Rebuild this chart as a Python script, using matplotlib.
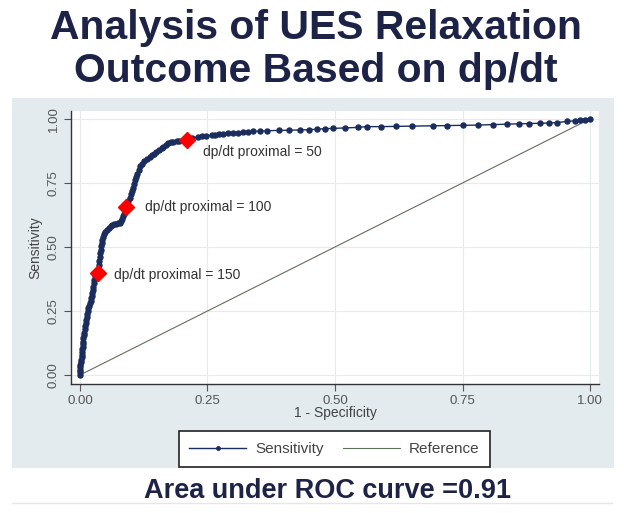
import matplotlib
matplotlib.use("Agg")
import matplotlib.pyplot as plt
from matplotlib.patches import Rectangle
from matplotlib.lines import Line2D

plt.rcParams["font.family"] = ["Liberation Sans", "DejaVu Sans"]

# ROC points (1 - specificity, sensitivity)
fpr = [0.000, 0.000, 0.000, 0.000, 0.001, 0.002, 0.002, 0.003, 0.003, 0.004,
       0.004, 0.005, 0.005, 0.006, 0.006, 0.007, 0.008, 0.009, 0.010, 0.011,
       0.012, 0.013, 0.014, 0.015, 0.016, 0.018, 0.020, 0.021, 0.022, 0.023,
       0.024, 0.025, 0.026, 0.027, 0.028, 0.030, 0.035, 0.036, 0.037, 0.038,
       0.039, 0.040, 0.041, 0.042, 0.043, 0.044, 0.046, 0.048, 0.050, 0.053,
       0.056, 0.060, 0.063, 0.067, 0.070, 0.074, 0.078, 0.080, 0.082, 0.084,
       0.086, 0.090, 0.093, 0.095, 0.098, 0.100, 0.102, 0.104, 0.106, 0.107,
       0.110, 0.112, 0.115, 0.118, 0.122, 0.126, 0.132, 0.137, 0.142, 0.146,
       0.150, 0.155, 0.160, 0.163, 0.168, 0.172, 0.178, 0.183, 0.190, 0.195,
       0.209, 0.220, 0.232, 0.240, 0.248, 0.258, 0.265, 0.272, 0.280, 0.290,
       0.300, 0.310, 0.320, 0.330, 0.340, 0.352, 0.366, 0.390, 0.410, 0.431,
       0.450, 0.464, 0.480, 0.496, 0.520, 0.545, 0.562, 0.590, 0.620, 0.650,
       0.692, 0.720, 0.750, 0.780, 0.810, 0.837, 0.860, 0.880, 0.902, 0.920,
       0.935, 0.954, 0.970, 0.980, 0.990, 1.000]
tpr = [0.000, 0.010, 0.020, 0.030, 0.040, 0.050, 0.060, 0.070, 0.080, 0.090,
       0.100, 0.110, 0.120, 0.130, 0.145, 0.155, 0.165, 0.178, 0.190, 0.203,
       0.215, 0.228, 0.240, 0.250, 0.260, 0.270, 0.280, 0.290, 0.300, 0.310,
       0.320, 0.333, 0.345, 0.358, 0.370, 0.385, 0.400, 0.415, 0.430, 0.445,
       0.460, 0.475, 0.490, 0.503, 0.515, 0.528, 0.540, 0.550, 0.560, 0.568,
       0.575, 0.580, 0.585, 0.588, 0.590, 0.592, 0.595, 0.600, 0.610, 0.620,
       0.630, 0.655, 0.668, 0.680, 0.693, 0.705, 0.718, 0.730, 0.745, 0.760,
       0.773, 0.785, 0.800, 0.815, 0.825, 0.835, 0.843, 0.850, 0.858, 0.865,
       0.872, 0.880, 0.886, 0.892, 0.899, 0.905, 0.908, 0.911, 0.913, 0.915,
       0.918, 0.925, 0.930, 0.932, 0.935, 0.936, 0.938, 0.940, 0.942, 0.944,
       0.946, 0.947, 0.948, 0.950, 0.951, 0.952, 0.954, 0.955, 0.956, 0.957,
       0.958, 0.960, 0.962, 0.963, 0.965, 0.967, 0.970, 0.970, 0.971, 0.972,
       0.973, 0.974, 0.975, 0.976, 0.978, 0.980, 0.981, 0.982, 0.983, 0.984,
       0.986, 0.990, 0.993, 0.995, 0.997, 1.000]

# highlighted cut-offs
cut_fpr = [0.209, 0.090, 0.035]
cut_tpr = [0.918, 0.655, 0.400]
cut_labels = ["dp/dt proximal = 50", "dp/dt proximal = 100", "dp/dt proximal = 150"]
cut_offsets = [(16, -12), (19, 0), (16, -2)]

ticks = [0.0, 0.25, 0.5, 0.75, 1.0]
tick_labels = ["0.00", "0.25", "0.50", "0.75", "1.00"]

navy = "#1b2d5c"
title_col = "#1c2347"
txt = "#444444"

fig = plt.figure(figsize=(6.24, 5.13), dpi=100)
W, H = 624, 513

# light panel behind the graph
fig.add_artist(Rectangle((12 / W, 1 - 468 / H), 602 / W, 370 / H,
                         transform=fig.transFigure, facecolor="#e3ebee",
                         edgecolor="none", zorder=-1))
fig.add_artist(Line2D([12 / W, 612 / W], [1 - 503 / H, 1 - 503 / H],
                      color="#e6e6e6", lw=1, zorder=-1))

fig.text(316 / W, 1 - 39 / H, "Analysis of UES Relaxation", ha="center",
         va="baseline", fontsize=29.4, fontweight="bold", color=title_col)
fig.text(316 / W, 1 - 82 / H, "Outcome Based on dp/dt", ha="center",
         va="baseline", fontsize=29.4, fontweight="bold", color=title_col)
fig.text(327 / W, 1 - 498 / H, "Area under ROC curve =0.91", ha="center",
         va="baseline", fontsize=19.5, fontweight="bold", color=title_col)

ax = fig.add_axes([71 / W, 1 - 384 / H, 528 / W, 273 / H])
ax.set_facecolor("white")
ax.set_xlim(-0.0176, 1.0176)
ax.set_ylim(-0.035, 1.031)

ax.plot(fpr, tpr, "-o", color=navy, lw=1.0, ms=3.6, zorder=3)
ax.plot([0, 1], [0, 1], color="#5f705f", lw=0.8, zorder=2)
ax.plot(cut_fpr, cut_tpr, "D", color="#ff0000", ms=8, mec="#ff0000", zorder=4)
for x, y, lab, off in zip(cut_fpr, cut_tpr, cut_labels, cut_offsets):
    ax.annotate(lab, (x, y), xytext=off, textcoords="offset pixels",
                ha="left", va="center", fontsize=10, color="#333333")

ax.set_xticks(ticks)
ax.set_xticklabels(tick_labels)
ax.set_yticks(ticks)
ax.set_yticklabels(tick_labels, rotation=90, va="center")
ax.tick_params(colors="#555555", labelsize=9.5, length=5, width=0.8, pad=3)
ax.grid(color="#e6ebed", lw=0.8)
ax.set_axisbelow(True)
for s in ["top", "right"]:
    ax.spines[s].set_visible(False)
for s in ["left", "bottom"]:
    ax.spines[s].set_color("#333333")
    ax.spines[s].set_linewidth(1.0)
ax.set_xlabel("1 - Specificity", fontsize=10, color=txt, labelpad=-1)
ax.set_ylabel("Sensitivity", fontsize=10, color=txt, labelpad=4)

handles = [Line2D([], [], color=navy, lw=1.0, marker="o", ms=2.5),
           Line2D([], [], color="#5f705f", lw=0.8)]
leg = fig.legend(handles, ["Sensitivity", "Reference"], loc="center",
                 bbox_to_anchor=(334.5 / W, 1 - 449 / H), ncol=2,
                 frameon=True, fancybox=False, edgecolor="#222222",
                 framealpha=1, fontsize=11, handlelength=3.7,
                 handletextpad=0.6, columnspacing=1.3, borderpad=0.7,
                 labelcolor=txt)
leg.get_frame().set_linewidth(1.2)

fig.savefig("out.png", dpi=100, facecolor="white")
